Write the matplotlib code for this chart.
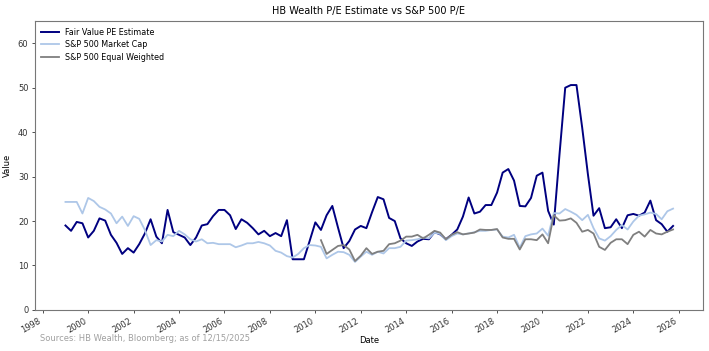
import matplotlib
matplotlib.use("Agg")
import matplotlib.pyplot as plt
import matplotlib.dates as mdates
import pandas as pd

dates = pd.date_range("1999-01-01", periods=108, freq="QS")

fair_value = [
    19.0, 17.8, 19.8, 19.5,
    16.3, 17.8, 20.6, 20.1,
    16.9, 15.1, 12.6, 13.9,
    12.9, 14.8, 17.2, 20.4,
    16.5, 15.0, 22.5, 17.5,
    16.9, 16.3, 14.6, 16.3,
    19.0, 19.3, 21.1, 22.5,
    22.5, 21.3, 18.2, 20.4,
    19.6, 18.4, 17.0, 17.8,
    16.6, 17.3, 16.6, 20.2,
    11.4, 11.4, 11.4, 15.5,
    19.7, 18.0, 21.3, 23.4,
    18.5, 13.9, 15.5, 18.1,
    18.9, 18.4, 22.0, 25.4,
    24.9, 20.7, 20.0, 16.1,
    15.0, 14.4, 15.4, 16.0,
    15.9, 17.5, 17.0, 15.9,
    16.9, 18.1, 21.0, 25.3,
    21.7, 22.1, 23.6, 23.6,
    26.4, 30.9, 31.7, 29.1,
    23.4, 23.3, 25.2, 30.2,
    30.9, 22.3, 19.2, 35.0,
    50.0, 50.6, 50.6, 41.0,
    30.5, 21.2, 22.9, 18.4,
    18.6, 20.4, 18.4, 21.3,
    21.6, 21.2, 21.9, 24.6,
    20.2, 19.3, 17.6, 18.9,
]

market_cap = [
    24.3, 24.3, 24.3, 21.7,
    25.2, 24.5, 23.2, 22.6,
    21.7, 19.5, 21.0, 18.9,
    21.1, 20.5, 18.0, 14.6,
    15.7, 15.4, 16.9, 16.6,
    17.8, 17.0, 15.9, 15.4,
    15.9, 15.0, 15.1, 14.8,
    14.8, 14.8, 14.1, 14.5,
    15.0, 15.0, 15.3, 15.0,
    14.5, 13.3, 12.9, 12.1,
    11.8, 12.6, 13.9, 14.6,
    14.5, 14.2, 11.6, 12.4,
    13.1, 13.0, 12.4, 10.8,
    12.0, 13.1, 12.4, 13.1,
    12.7, 13.9, 13.9, 14.2,
    15.6, 15.7, 15.9, 16.3,
    16.1, 17.4, 17.1, 15.7,
    16.6, 17.2, 17.0, 17.2,
    17.5, 17.8, 17.8, 18.0,
    18.1, 16.5, 16.3, 16.9,
    14.0, 16.6, 17.0, 17.2,
    18.3, 16.7, 21.8, 21.7,
    22.7, 22.1, 21.4, 20.2,
    21.4, 18.4, 16.1, 15.6,
    16.6, 18.0, 19.1, 18.1,
    19.9, 21.2, 21.5, 21.9,
    21.6, 20.4, 22.2, 22.8,
]

equal_weighted = [
    15.7, 12.6, 13.5,
    14.4, 14.6, 13.6, 11.0,
    12.2, 13.9, 12.6, 13.1,
    13.3, 14.8, 15.0, 15.6,
    16.5, 16.5, 16.9, 16.1,
    16.9, 17.8, 17.4, 15.9,
    16.9, 17.5, 17.0, 17.2,
    17.4, 18.1, 18.0, 18.0,
    18.2, 16.3, 16.0, 16.0,
    13.6, 15.9, 15.9, 15.7,
    17.0, 15.0, 21.3, 20.1,
    20.2, 20.6, 19.6, 17.6,
    18.0, 17.2, 14.2, 13.5,
    15.1, 15.9, 15.9, 14.8,
    16.9, 17.6, 16.5, 18.0,
    17.2, 17.0, 17.6, 18.1,
]
ew_dates = dates[len(dates) - len(equal_weighted):]

fig = plt.figure(figsize=(7.09, 3.51), dpi=100)
ax = fig.add_axes([0.049, 0.117, 0.9425, 0.823])

ax.plot(dates, fair_value, color="#000080", lw=1.4, label="Fair Value PE Estimate")
ax.plot(dates, market_cap, color="#aec7e8", lw=1.3, label="S&P 500 Market Cap")
ax.plot(ew_dates, equal_weighted, color="#7f7f7f", lw=1.3, label="S&P 500 Equal Weighted")

ax.set_ylim(0, 65)
ax.set_yticks([0, 10, 20, 30, 40, 50, 60])
ax.xaxis.set_major_locator(mdates.YearLocator(2))
ax.xaxis.set_major_formatter(mdates.DateFormatter("%Y"))
ax.set_xlim(pd.Timestamp("1997-08-25"), pd.Timestamp("2027-01-25"))

for lab in ax.get_xticklabels():
    lab.set_rotation(30)
    lab.set_ha("right")

ax.tick_params(labelsize=6.0, length=2.5, width=0.6, colors="#333333", pad=2)
for s in ax.spines.values():
    s.set_color("#777777")
    s.set_linewidth(0.8)

ax.set_title("HB Wealth P/E Estimate vs S&P 500 P/E", fontsize=7.0, pad=5)
ax.set_xlabel("Date", fontsize=6.0, labelpad=1)
ax.set_ylabel("Value", fontsize=6.0, labelpad=4)

leg = ax.legend(loc="upper left", fontsize=5.8, frameon=False, handlelength=2.2,
                borderaxespad=0.4, labelspacing=0.45)

fig.text(0.057, 0.035, "Sources: HB Wealth, Bloomberg; as of 12/15/2025",
         fontsize=6.0, color="#a0a0a0", ha="left", va="center")

fig.savefig("out.png", dpi=100)
